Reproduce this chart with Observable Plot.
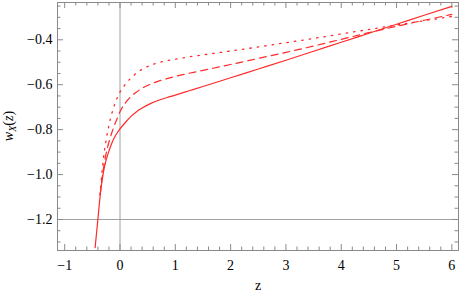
<!DOCTYPE html>
<html><head><meta charset="utf-8">
<script src="https://cdn.jsdelivr.net/npm/d3@7"></script>
<script src="https://cdn.jsdelivr.net/npm/@observablehq/plot@0.6"></script>
<style>
html,body{margin:0;padding:0;background:#fff;}
#chart svg{display:block;}
#chart svg text{font-family:"Liberation Serif","Times New Roman",serif;}
</style>
</head><body>
<div id="chart"></div>
<script>
// Solid curve
const zSolid = [-0.45,-0.40,-0.35,-0.30,-0.25,-0.20,-0.15,-0.10,-0.05,0.00,0.10,0.20,0.30,0.40,0.55,0.70,0.85,1.00,1.25,1.50,2.00,2.50,3.00,3.50,4.00,4.50,5.00,5.50,6.00];
const wSolid = [-1.325,-1.200,-1.075,-0.990,-0.935,-0.895,-0.862,-0.835,-0.814,-0.797,-0.767,-0.741,-0.720,-0.704,-0.684,-0.669,-0.657,-0.646,-0.627,-0.608,-0.569,-0.530,-0.491,-0.451,-0.411,-0.371,-0.331,-0.291,-0.251];
// Dashed curve
const zDashed = [-0.36,-0.30,-0.25,-0.20,-0.15,-0.10,-0.05,0.00,0.10,0.20,0.30,0.40,0.55,0.70,0.85,1.00,1.25,1.50,2.00,2.50,3.00,3.50,4.00,4.50,5.00,5.50,6.00];
const wDashed = [-1.090,-0.975,-0.905,-0.855,-0.815,-0.780,-0.750,-0.720,-0.680,-0.652,-0.632,-0.616,-0.598,-0.584,-0.573,-0.563,-0.549,-0.536,-0.510,-0.483,-0.456,-0.428,-0.398,-0.368,-0.340,-0.313,-0.287];
// Dotted curve
const zDotted = [-0.36,-0.33,-0.30,-0.25,-0.20,-0.15,-0.10,-0.05,0.00,0.10,0.20,0.30,0.40,0.55,0.70,0.85,1.00,1.25,1.50,2.00,2.50,3.00,3.50,4.00,4.50,5.00,5.50,6.00];
const wDotted = [-1.090,-1.000,-0.930,-0.845,-0.780,-0.730,-0.690,-0.658,-0.633,-0.597,-0.570,-0.548,-0.531,-0.514,-0.502,-0.493,-0.486,-0.476,-0.467,-0.450,-0.432,-0.413,-0.394,-0.374,-0.354,-0.334,-0.315,-0.296];

const xMajorTicks = [-1,0,1,2,3,4,5,6];
const yMajorTicks = [-1.2,-1.0,-0.8,-0.6,-0.4];
const refLineX = [0];
const refLineY = [-1.2];
const xDomain = [-1.13, 6.12];
const yDomain = [-1.338, -0.234];

const toRows = (zs, ws, s) => zs.map((z, i) => ({z, w: ws[i], s}));
const solid = toRows(zSolid, wSolid, "solid");
const dashed = toRows(zDashed, wDashed, "dashed");
const dotted = toRows(zDotted, wDotted, "dotted");

const xMinor = d3.range(-56, 31).map(i => +(i * 0.2).toFixed(2)).filter(v => v >= xDomain[0] && v <= xDomain[1] && !xMajorTicks.includes(v));
const yMinor = d3.range(-27, -4).map(i => +(i * 0.05).toFixed(2)).filter(v => v >= yDomain[0] && v <= yDomain[1] && !yMajorTicks.some(t => Math.abs(t - v) < 1e-9));

const W = 460, H = 296;
const mTop = 2, mRight = 2, mBottom = 46, mLeft = 57;
const fw = W - mLeft - mRight, fh = H - mTop - mBottom;
const major = 6, minor = 3.5;
const axisColor = "#8a8a8a";
const red = "#ff2a2a";
const font = "Liberation Serif";

const plot = Plot.plot({
  width: W, height: H,
  marginTop: mTop, marginRight: mRight, marginBottom: mBottom, marginLeft: mLeft,
  style: {fontFamily: font, fontSize: "14px", background: "#fff", color: "#000"},
  x: {domain: xDomain},
  y: {domain: yDomain},
  marks: [
    Plot.ruleX(refLineX, {stroke: "#a0a0a0", strokeWidth: 1}),
    Plot.ruleY(refLineY, {stroke: "#a0a0a0", strokeWidth: 1}),
    Plot.tickX(xMajorTicks, {x: d => d, stroke: axisColor, insetTop: fh - major}),
    Plot.tickX(xMajorTicks, {x: d => d, stroke: axisColor, insetBottom: fh - major}),
    Plot.tickX(xMinor, {x: d => d, stroke: axisColor, insetTop: fh - minor}),
    Plot.tickX(xMinor, {x: d => d, stroke: axisColor, insetBottom: fh - minor}),
    Plot.tickY(yMajorTicks, {y: d => d, stroke: axisColor, insetRight: fw - major}),
    Plot.tickY(yMajorTicks, {y: d => d, stroke: axisColor, insetLeft: fw - major}),
    Plot.tickY(yMinor, {y: d => d, stroke: axisColor, insetRight: fw - minor}),
    Plot.tickY(yMinor, {y: d => d, stroke: axisColor, insetLeft: fw - minor}),
    Plot.axisX(xMajorTicks, {tickSize: 0, tickPadding: 10, label: null, fontSize: 14, fontFamily: font, tickFormat: d => d3.format("d")(d)}),
    Plot.axisY(yMajorTicks, {tickSize: 0, tickPadding: 5, label: null, fontSize: 14, fontFamily: font, tickFormat: d => d3.format(".1f")(d)}),
    Plot.frame({stroke: axisColor}),
    Plot.line(solid, {x: "z", y: "w", stroke: red, strokeWidth: 1.2, curve: "monotone-x"}),
    Plot.line(dashed, {x: "z", y: "w", stroke: red, strokeWidth: 1.2, strokeDasharray: "7,5", curve: "monotone-x"}),
    Plot.line(dotted, {x: "z", y: "w", stroke: red, strokeWidth: 1.3, strokeDasharray: "1.5,6", strokeLinecap: "round", curve: "monotone-x"}),
    Plot.text(["z"], {frameAnchor: "bottom", dy: 39, fontSize: 14, fontFamily: font, fill: "#000"})
  ]
});
document.getElementById("chart").appendChild(plot);

// y-axis label with subscript
const svg = d3.select(plot);
const lab = svg.append("text")
  .attr("transform", `translate(13,${mTop + fh / 2}) rotate(-90)`)
  .attr("text-anchor", "middle")
  .attr("font-family", font)
  .attr("font-size", 14)
  .attr("fill", "#000");
lab.append("tspan").attr("font-style", "italic").text("w");
lab.append("tspan").attr("font-style", "italic").attr("font-size", 10).attr("dy", 3).text("X");
lab.append("tspan").attr("dy", -3).text("(");
lab.append("tspan").attr("font-style", "italic").text("z");
lab.append("tspan").text(")");
</script>
</body></html>
